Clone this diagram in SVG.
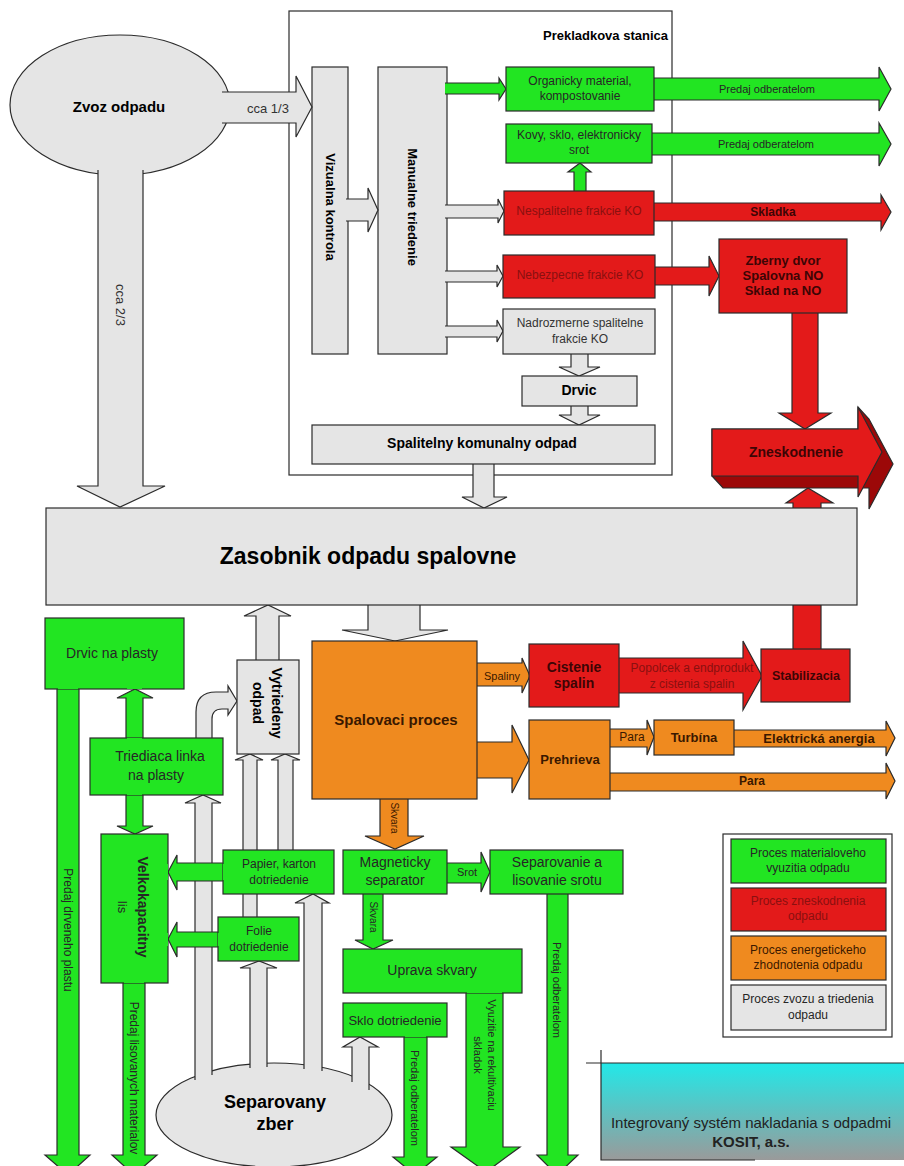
<svg xmlns="http://www.w3.org/2000/svg" width="904" height="1166" viewBox="0 0 904 1166">
<style>
text{font-family:"Liberation Sans",Arial,Helvetica,sans-serif;dominant-baseline:central;text-anchor:middle}
.g{fill:#22e522;stroke:#2b2b2b;stroke-width:1.2}
.r{fill:#e31a1a;stroke:#2b2b2b;stroke-width:1.2}
.o{fill:#ef8a1f;stroke:#2b2b2b;stroke-width:1.2}
.y{fill:#e5e5e5;stroke:#2b2b2b;stroke-width:1.2}
.w{fill:#fff;stroke:#2b2b2b;stroke-width:1.2}
.dk{fill:#9c0808;stroke:#2b2b2b;stroke-width:1.2}
.b{font-weight:bold}
.tg{fill:#262626}
.tr{fill:#8a1010}
.trb{fill:#3d0505;font-weight:bold}
.to{fill:#3a1800}
</style>
<defs>
<linearGradient id="titleFill" x1="0" y1="0" x2="0" y2="1">
<stop offset="0" stop-color="#22e8e8"/>
<stop offset="1" stop-color="#9a9a9a"/>
</linearGradient>
</defs>

<!-- transfer station frame -->
<g id="prekladkova-stanica">
<rect class="w" x="289" y="11" width="383" height="464"/>
<text class="b" x="668" y="35" style="text-anchor:end" font-size="13">Prekladkova stanica</text>
</g>

<g id="zvoz-odpadu">
<ellipse class="y" cx="120" cy="105" rx="110" ry="70"/>
<text class="b" x="119" y="106" font-size="15">Zvoz odpadu</text>
</g>

<g id="vizualna-kontrola">
<rect class="y" x="312" y="67" width="36" height="287"/>
<text class="b" x="330" y="207" font-size="13" transform="rotate(90 330 207)">Vizualna kontrola</text>
</g>

<g id="manualne-triedenie">
<rect class="y" x="378" y="67" width="69" height="287"/>
<text class="b" x="412" y="207" font-size="13" transform="rotate(90 412 207)">Manualne triedenie</text>
</g>

<g id="connectors">
<!-- collection: 1/3 to transfer station, 2/3 to bunker -->
<path class="y" d="M222,92 H296 V76 L312,107 L296,137 V123 H222"/>
<text x="268" y="108" font-size="13" fill="#333">cca 1/3</text>
<path class="y" d="M98,170 V486 H77 L120,507 L165,486 H143 V170"/>
<text x="120" y="305" font-size="13" fill="#333" transform="rotate(90 120 305)">cca 2/3</text>

<!-- inside transfer station -->
<path class="y" d="M346,199 H368 V188 L378,210 L368,232 V221 H346"/>
<path class="g" d="M445,83 H499 V78 L506,89 L499,100 V94 H445"/>
<path class="y" d="M445,205 H498 V199 L504,211 L498,223 V218 H445"/>
<path class="y" d="M445,271 H497 V265 L503,276 L497,287 V282 H445"/>
<path class="y" d="M445,326 H497 V320 L503,331 L497,342 V337 H445"/>
<path class="g" d="M652,78 H879 V67 L891,89 L879,111 V100 H652"/>
<text x="767" y="89" font-size="11" class="tg">Predaj odberatelom</text>
<path class="g" d="M650,133 H879 V123 L891,144 L879,166 V155 H650"/>
<text x="766" y="144" font-size="11" class="tg">Predaj odberatelom</text>
<path class="g" d="M574,193 V172 H568 L580,163 L591,172 H586 V193"/>
<path class="r" d="M652,203 H881 V195 L891,212 L881,230 V221 H652"/>
<text x="773" y="212" font-size="12" class="trb">Skladka</text>
<path class="r" d="M653,267 H709 V256 L719,276 L709,296 V285 H653"/>
<path class="r" d="M792,311 V413 H779 L805,429 L831,413 H818 V311"/>
<path class="y" d="M571,352 V367 H559 L579,376 L600,367 H588 V352"/>
<path class="y" d="M571,404 V415 H559 L579,425 L600,415 H588 V404"/>
<path class="y" d="M473,462 V497 H462 L484,508 L507,497 H494 V462"/>

<!-- bunker to furnace, sorted waste to bunker -->
<path class="y" d="M368,603 V630 H342 L395,641 L448,630 H420 V603"/>
<path class="y" d="M256,662 V616 H244 L268,605 L291,616 H279 V662"/>

<!-- furnace outputs -->
<path class="o" d="M475,663 H522 V658 L530,676 L522,693 V686 H475"/>
<text x="502" y="676" font-size="11" class="to">Spaliny</text>
<path class="r" d="M617,658 H743 V641 L762,676 L743,710 V693 H617"/>
<text x="692" y="668" font-size="12" class="tr">Popolcek a endprodukt</text>
<text x="692" y="684" font-size="12" class="tr">z cistenia spalin</text>
<path class="r" d="M793,651 V503 H786 L808,488 L833,503 H821 V651"/>
<path class="o" d="M475,742 H512 V725 L529,760 L512,793 V778 H475"/>
<path class="o" d="M608,729 H647 V720 L654,737 L647,755 V747 H608"/>
<text x="632" y="737" font-size="12" class="to">Para</text>
<path class="o" d="M732,730 H886 V721 L895,738 L886,756 V747 H732"/>
<text x="819" y="738" font-size="13" class="to b">Elektrická anergia</text>
<path class="o" d="M608,773 H886 V763 L895,781 L886,799 V791 H608"/>
<text x="752" y="781" font-size="12" class="to b">Para</text>
<path class="o" d="M380,797 V836 H365 L395,849 L424,836 H408 V797"/>
<text x="394" y="818" font-size="10" class="to" transform="rotate(90 394 818)">Skvara</text>

<!-- slag and scrap -->
<path class="g" d="M445,863 H481 V852 L490,872 L481,892 V883 H445"/>
<text x="467" y="872" font-size="11" class="tg">Srot</text>
<path class="g" d="M547,892 V1155 H537 L557,1175 L578,1155 H568 V892"/>
<text x="557" y="990" font-size="11" class="tg" transform="rotate(90 557 990)">Predaj odberatelom</text>
<path class="g" d="M363,892 V940 H355 L373,949 L393,940 H383 V892"/>
<text x="373" y="917" font-size="10" class="tg" transform="rotate(90 373 917)">Skvara</text>
<path class="g" d="M466,991 V1147 H451 L486,1172 L520,1147 H503 V991"/>
<text x="492" y="1055" font-size="11" class="tg" transform="rotate(90 492 1055)">Vyuzitie na rekultivaciu</text>
<text x="478" y="1055" font-size="11" class="tg" transform="rotate(90 478 1055)">skladok</text>
<path class="g" d="M404,1035 V1157 H393 L415,1175 L437,1157 H427 V1035"/>
<text x="415" y="1098" font-size="11" class="tg" transform="rotate(90 415 1098)">Predaj odberatelom</text>
</g>

<g id="separovany-zber">
<ellipse class="y" cx="274" cy="1115" rx="118" ry="52"/>
<text class="b" x="275" y="1102" font-size="18">Separovany</text>
<text class="b" x="275" y="1124" font-size="18">zber</text>
</g>

<g id="connectors-separated">
<path class="y" d="M352,1082 V1047 H343 L360,1037 L378,1047 H369 V1090"/>
<path class="y" d="M195,1080 V803 H185 L203,795 L221,803 H212 V1075"/>
<path class="y" d="M250,1068 V968 H240 L259,961 L277,968 H267 V1067"/>
<path class="y" d="M304,1069 V903 H295 L313,894 L329,903 H322 V1071"/>
<path class="y" d="M243,919 V760 H235 L250,754 L263,760 H257 V919"/>
<path class="y" d="M278,852 V760 H271 L285,754 L300,760 H293 V852"/>
<path class="y" d="M196,740 V712 Q196,692 216,692 H228 V686 L237,701 L228,715 V709 H222 Q212,709 212,719 V740"/>
<path class="g" d="M57,687 V1155 H45 L68,1175 L90,1155 H79 V687"/>
<text x="68" y="930" font-size="12" class="tg" transform="rotate(90 68 930)">Predaj drveneho plastu</text>
<path class="g" d="M126,740 V698 H117 L135,689 L153,698 H143 V740"/>
<path class="g" d="M126,793 V826 H117 L135,834 L153,826 H143 V793"/>
<path class="g" d="M123,981 V1155 H112 L134,1175 L157,1155 H145 V981"/>
<text x="134" y="1078" font-size="12" class="tg" transform="rotate(90 134 1078)">Predaj lisovanych materialov</text>
<path class="g" d="M225,863 H177 V855 L168,872 L177,890 V881 H225"/>
<path class="g" d="M220,932 H177 V922 L168,939 L177,957 V947 H220"/>
</g>

<g id="organicky-material">
<rect class="g" x="506" y="67" width="148" height="44"/>
<text x="580" y="81" font-size="12" class="tg">Organicky material,</text>
<text x="580" y="96" font-size="12" class="tg">kompostovanie</text>
</g>
<g id="kovy-sklo">
<rect class="g" x="506" y="124" width="146" height="39"/>
<text x="579" y="135" font-size="12" class="tg">Kovy, sklo, elektronicky</text>
<text x="579" y="150" font-size="12" class="tg">srot</text>
</g>
<g id="nespalitelne-frakcie">
<rect class="r" x="504" y="191" width="150" height="44"/>
<text x="579" y="211" font-size="12" class="tr">Nespalitelne frakcie KO</text>
</g>
<g id="nebezpecne-frakcie">
<rect class="r" x="503" y="255" width="152" height="43"/>
<text x="580" y="275" font-size="12" class="tr">Nebezpecne frakcie KO</text>
</g>
<g id="nadrozmerne-frakcie">
<rect class="y" x="503" y="309" width="152" height="45"/>
<text x="580" y="323" font-size="12" fill="#333">Nadrozmerne spalitelne</text>
<text x="580" y="339" font-size="12" fill="#333">frakcie KO</text>
</g>
<g id="drvic">
<rect class="y" x="522" y="376" width="115" height="30"/>
<text class="b" x="579" y="390" font-size="14">Drvic</text>
</g>
<g id="spalitelny-odpad">
<rect class="y" x="312" y="425" width="343" height="39"/>
<text class="b" x="482" y="443" font-size="14">Spalitelny komunalny odpad</text>
</g>
<g id="zberny-dvor">
<rect class="r" x="719" y="239" width="128" height="74"/>
<text class="trb" x="783" y="260" font-size="13">Zberny dvor</text>
<text class="trb" x="783" y="275" font-size="13">Spalovna NO</text>
<text class="trb" x="783" y="290" font-size="13">Sklad na NO</text>
</g>
<g id="zneskodnenie">
<path class="dk" d="M712,429 H858 V407 L869,419 L893,464 L869,509 V488 H723 L712,476 Z"/>
<path class="r" d="M712,429 H858 V407 L882,452 L858,497 V476 H712 Z"/>
<text class="trb" x="796" y="452" font-size="14">Zneskodnenie</text>
</g>
<g id="zasobnik">
<rect class="y" x="46" y="508" width="811" height="97"/>
<text class="b" x="368" y="556" font-size="23">Zasobnik odpadu spalovne</text>
</g>
<g id="spalovaci-proces">
<rect class="o" x="312" y="641" width="165" height="158"/>
<text class="to b" x="396" y="719" font-size="15">Spalovaci proces</text>
</g>
<g id="cistenie-spalin">
<rect class="r" x="529" y="644" width="90" height="63"/>
<text class="trb" x="574" y="667" font-size="14">Cistenie</text>
<text class="trb" x="574" y="683" font-size="14">spalin</text>
</g>
<g id="stabilizacia">
<rect class="r" x="761" y="649" width="89" height="53"/>
<text class="trb" x="806" y="676" font-size="12.5">Stabilizacia</text>
</g>
<g id="prehrieva">
<rect class="o" x="529" y="720" width="81" height="79"/>
<text class="to b" x="570" y="759" font-size="13">Prehrieva</text>
</g>
<g id="turbina">
<rect class="o" x="654" y="720" width="80" height="35"/>
<text class="to b" x="694" y="737" font-size="13">Turbína</text>
</g>
<g id="magneticky-separator">
<rect class="g" x="343" y="850" width="104" height="44"/>
<text x="395" y="862" font-size="14" class="tg">Magneticky</text>
<text x="395" y="880" font-size="14" class="tg">separator</text>
</g>
<g id="separovanie-srotu">
<rect class="g" x="490" y="850" width="133" height="44"/>
<text x="557" y="862" font-size="14" class="tg">Separovanie a</text>
<text x="557" y="880" font-size="14" class="tg">lisovanie srotu</text>
</g>
<g id="uprava-skvary">
<rect class="g" x="343" y="949" width="179" height="44"/>
<path d="M467,992 H502" stroke="#22e522" stroke-width="2"/>
<text x="432" y="970" font-size="14" class="tg">Uprava skvary</text>
</g>
<g id="sklo-dotriedenie">
<rect class="g" x="343" y="1003" width="104" height="34"/>
<path d="M405,1036 H426" stroke="#22e522" stroke-width="2"/>
<text x="395" y="1020" font-size="13" class="tg">Sklo dotriedenie</text>
</g>
<g id="drvic-na-plasty">
<rect class="g" x="45" y="618" width="139" height="71"/>
<path d="M58,688 H78 M127,688 H142" stroke="#22e522" stroke-width="2"/>
<text x="112" y="653" font-size="14" class="tg">Drvic na plasty</text>
</g>
<g id="triediaca-linka">
<rect class="g" x="90" y="738" width="133" height="57"/>
<path d="M127,739 H142 M127,794 H142" stroke="#22e522" stroke-width="2"/>
<text x="160" y="756" font-size="14" class="tg">Triediaca linka</text>
<text x="156" y="775" font-size="14" class="tg">na  plasty</text>
</g>
<g id="velkokapacitny-lis">
<rect class="g" x="101" y="834" width="67" height="149"/>
<path d="M124,982 H144 M167,864 V880 M167,933 V946" stroke="#22e522" stroke-width="2"/>
<text class="b tg" x="143" y="907" font-size="14" transform="rotate(90 143 907)">Velkokapacitny</text>
<text class="tg" x="122" y="907" font-size="13" transform="rotate(90 122 907)">lis</text>
</g>
<g id="papier-karton">
<rect class="g" x="223" y="850" width="111" height="44"/>
<path d="M224,864 V880" stroke="#22e522" stroke-width="2"/>
<text x="279" y="864" font-size="12" class="tg">Papier, karton</text>
<text x="279" y="880" font-size="12" class="tg">dotriedenie</text>
</g>
<g id="folie-dotriedenie">
<rect class="g" x="218" y="917" width="81" height="44"/>
<path d="M219,933 V946" stroke="#22e522" stroke-width="2"/>
<text x="259" y="931" font-size="12" class="tg">Folie</text>
<text x="259" y="947" font-size="12" class="tg">dotriedenie</text>
</g>
<g id="vytriedeny-odpad">
<rect class="y" x="237" y="660" width="62" height="94"/>
<text class="b" x="277" y="703" font-size="14" transform="rotate(90 277 703)">Vytriedeny</text>
<text class="b" x="258" y="703" font-size="14" transform="rotate(90 258 703)">odpad</text>
</g>

<g id="legenda">
<rect class="w" x="723" y="834" width="169" height="203"/>
<rect class="g" x="731" y="839" width="155" height="44"/>
<text x="808" y="853" font-size="12" class="tg">Proces materialoveho</text>
<text x="808" y="868" font-size="12" class="tg">vyuzitia odpadu</text>
<rect class="r" x="731" y="888" width="155" height="43"/>
<text x="808" y="901" font-size="12" class="tr">Proces zneskodnenia</text>
<text x="808" y="916" font-size="12" class="tr">odpadu</text>
<rect class="o" x="731" y="936" width="155" height="44"/>
<text x="808" y="950" font-size="12" class="to">Proces energetickeho</text>
<text x="808" y="965" font-size="12" class="to">zhodnotenia odpadu</text>
<rect class="y" x="731" y="985" width="155" height="45"/>
<text x="808" y="999" font-size="12" class="tg">Proces zvozu a triedenia</text>
<text x="808" y="1015" font-size="12" class="tg">odpadu</text>
</g>

<g id="titulok">
<rect x="601" y="1063" width="303" height="97" fill="url(#titleFill)"/>
<path d="M586,1063 H904 M601,1050 V1160 H755" fill="none" stroke="#2b2b2b" stroke-width="1.2"/>
<text x="751" y="1122" font-size="15" fill="#222">Integrovaný systém nakladania s odpadmi</text>
<text class="b" x="751" y="1141" font-size="15" fill="#222">KOSIT, a.s.</text>
</g>
</svg>
